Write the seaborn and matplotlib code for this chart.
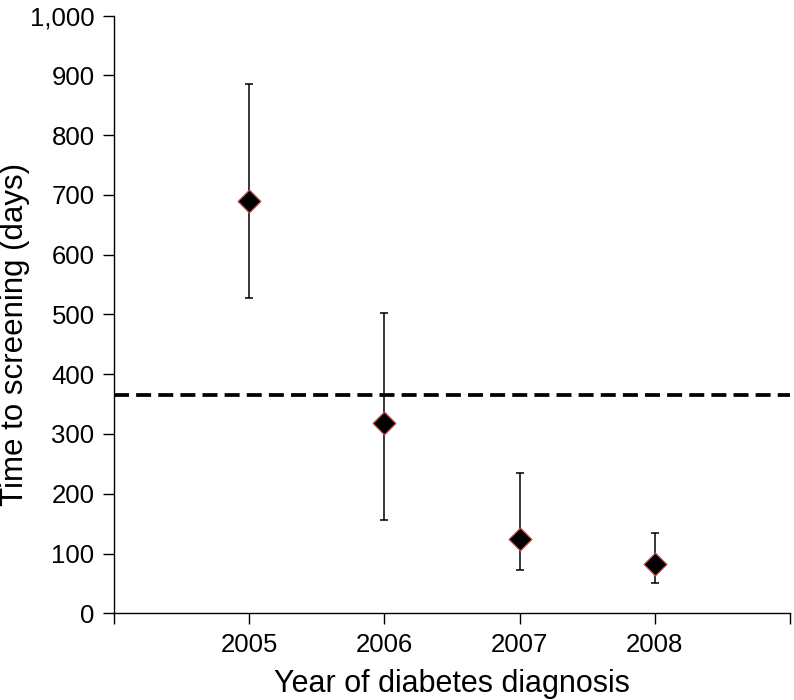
import matplotlib
matplotlib.use("Agg")
import matplotlib.pyplot as plt
import seaborn as sns
import numpy as np
import pandas as pd

years = [2005, 2006, 2007, 2008]
median_days = [690, 318, 124, 83]
upper_days = [886, 502, 235, 135]
lower_days = [528, 156, 72, 51]
reference_days = 365
y_ticks = [0, 100, 200, 300, 400, 500, 600, 700, 800, 900, 1000]
y_tick_labels = ["0", "100", "200", "300", "400", "500", "600", "700", "800", "900", "1,000"]
x_tick_positions = [2004, 2005, 2006, 2007, 2008, 2009]
x_tick_labels = ["", "2005", "2006", "2007", "2008", ""]

sns.set_theme(style="ticks")
plt.rcParams['font.family'] = ['Liberation Sans', 'DejaVu Sans']

df = pd.DataFrame({"year": years, "days": median_days,
                   "lo": lower_days, "hi": upper_days})

fig = plt.figure(figsize=(7.94, 7.0), dpi=100)
ax = fig.add_axes([0.1436, 0.1239, 0.8514, 0.8537])

yerr = np.array([df["days"] - df["lo"], df["hi"] - df["days"]])
ax.errorbar(df["year"], df["days"], yerr=yerr, fmt="none", ecolor="black",
            elinewidth=1.1, capsize=3, capthick=1.1, zorder=2)
ax.axhline(reference_days, color="black", lw=2.7, linestyle=(0, (4.0, 1.9)), zorder=1)
sns.scatterplot(data=df, x="year", y="days", marker="D", s=135, color="black",
                edgecolor="#c0504d", linewidth=0.9, ax=ax, zorder=3, legend=False)

ax.set_xlim(2004, 2009)
ax.set_ylim(0, 1000)
ax.set_xticks(x_tick_positions)
ax.set_xticklabels(x_tick_labels)
ax.set_yticks(y_ticks)
ax.set_yticklabels(y_tick_labels)
ax.tick_params(axis="both", direction="out", length=8, width=1.0, color="black",
               labelsize=18.5, labelcolor="black")
ax.tick_params(axis="y", pad=6)
ax.tick_params(axis="x", pad=6)
for side in ["top", "right"]:
    ax.spines[side].set_visible(False)
for side in ["left", "bottom"]:
    ax.spines[side].set_color("black")
    ax.spines[side].set_linewidth(1.0)

ax.set_xlabel("Year of diabetes diagnosis", fontsize=22, color="black", labelpad=9)
ax.set_ylabel("Time to screening (days)", fontsize=22.5, color="black")
ax.yaxis.set_label_coords(-0.1247, 0.466)

fig.savefig("out.png", dpi=100)
